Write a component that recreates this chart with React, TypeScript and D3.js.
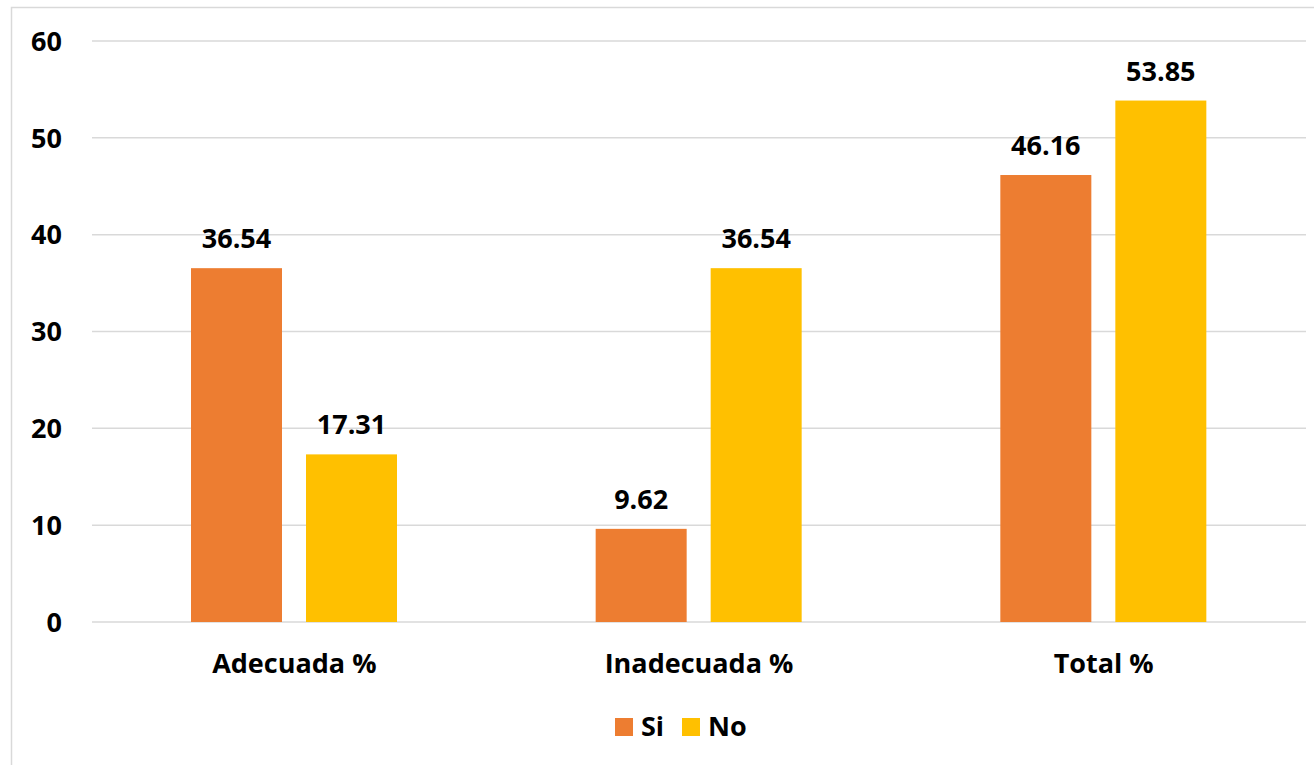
import React from "react";
import * as d3 from "d3";

const categories = ["Adecuada %", "Inadecuada %", "Total %"];
const seriesNames = ["Si", "No"];
const siValues = [36.54, 9.62, 46.16];
const noValues = [17.31, 36.54, 53.85];
const siLabels = ["36.54", "9.62", "46.16"];
const noLabels = ["17.31", "36.54", "53.85"];
const yTicks = [0, 10, 20, 30, 40, 50, 60];
const colors = ["#ED7D31", "#FFC000"];

const W = 1314;
const H = 765;
const FONT = "'Open Sans', sans-serif";

export default function App() {
  const x0 = d3.scaleBand<string>().domain(categories).range([92, 1306]).paddingInner(0).paddingOuter(0);
  const bw = x0.bandwidth();
  const x1 = d3
    .scaleBand<string>()
    .domain(seriesNames)
    .range([(99 / 404.67) * bw, (305 / 404.67) * bw])
    .paddingInner(0.2087)
    .paddingOuter(0);
  const y = d3.scaleLinear().domain([0, 60]).range([622, 41]);
  const seriesData = [siValues, noValues];
  const seriesLabels = [siLabels, noLabels];

  return (
    <svg width={W} height={H} style={{ position: "absolute", left: 0, top: 0, background: "#fff" }}>
      <rect x={11.5} y={7.5} width={1310} height={780} fill="#fff" stroke="#d9d9d9" strokeWidth={1.5} />
      {yTicks.map((t) => (
        <g key={t}>
          <line x1={92} x2={1306} y1={y(t)} y2={y(t)} stroke="#d9d9d9" strokeWidth={1.5} />
          <text x={62} y={y(t)} dy="0.36em" textAnchor="end" fontFamily={FONT} fontWeight={700} fontSize={27} fill="#000">
            {t}
          </text>
        </g>
      ))}
      {categories.map((c, i) => (
        <g key={c}>
          {seriesNames.map((s, j) => {
            const v = seriesData[j][i];
            const bx = (x0(c) as number) + (x1(s) as number);
            return (
              <g key={s}>
                <rect x={bx} y={y(v)} width={x1.bandwidth()} height={y(0) - y(v)} fill={colors[j]} />
                <text
                  x={bx + x1.bandwidth() / 2}
                  y={y(v) - 20}
                  textAnchor="middle"
                  fontFamily={FONT}
                  fontWeight={700}
                  fontSize={27}
                  fill="#000"
                >
                  {seriesLabels[j][i]}
                </text>
              </g>
            );
          })}
          <text x={(x0(c) as number) + bw / 2} y={673} textAnchor="middle" fontFamily={FONT} fontWeight={700} fontSize={27} fill="#000">
            {c}
          </text>
        </g>
      ))}
      <g>
        <rect x={615} y={718} width={18} height={18} fill={colors[0]} />
        <text x={641} y={736} fontFamily={FONT} fontWeight={700} fontSize={27} fill="#000">
          Si
        </text>
        <rect x={682} y={718} width={18} height={18} fill={colors[1]} />
        <text x={708} y={736} fontFamily={FONT} fontWeight={700} fontSize={27} fill="#000">
          No
        </text>
      </g>
    </svg>
  );
}
